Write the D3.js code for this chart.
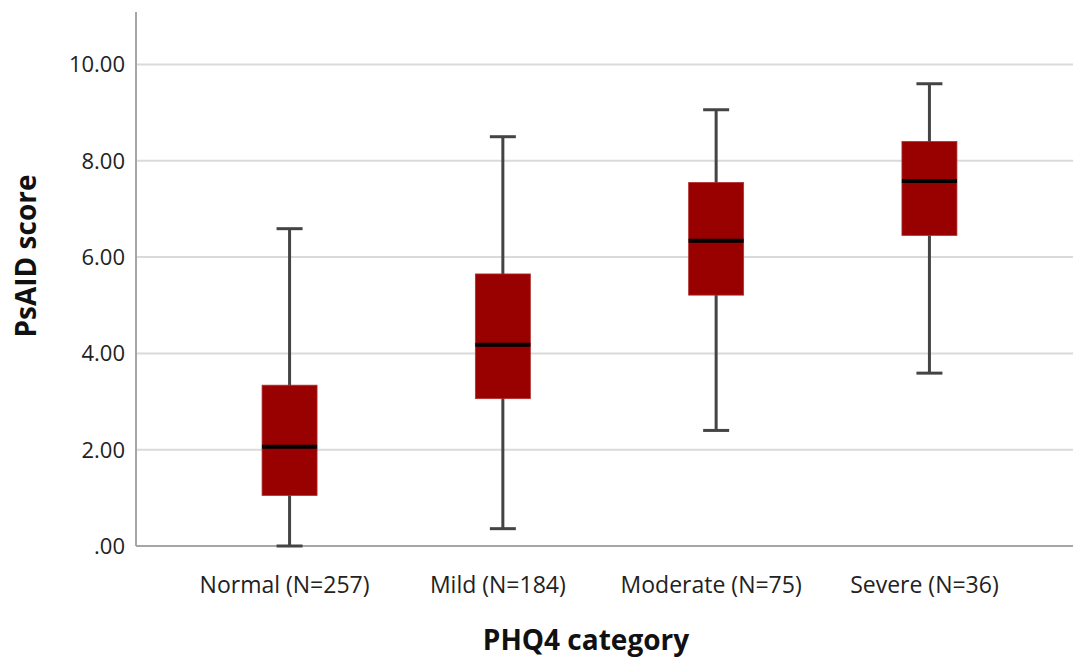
<!DOCTYPE html>
<html>
<head>
<meta charset="utf-8">
<script src="https://cdn.jsdelivr.net/npm/d3@7"></script>
<style>
  body { margin: 0; background: #fff; }
  text { font-family: "Open Sans", "Noto Sans", sans-serif; }
</style>
</head>
<body>
<svg id="chart" width="1073" height="658"></svg>
<script>
// values
const categories = ['Normal (N=257)', 'Mild (N=184)', 'Moderate (N=75)', 'Severe (N=36)']
const mins    = [0.00, 0.36, 2.40, 3.59]
const q1s     = [1.05, 3.06, 5.21, 6.45]
const medians = [2.06, 4.18, 6.34, 7.58]
const q3s     = [3.34, 5.65, 7.55, 8.40]
const maxs    = [6.59, 8.50, 9.06, 9.60]
const yTicks  = [0, 2, 4, 6, 8, 10]

const svg = d3.select('#chart')
const margin = {top: 12, right: 0, bottom: 112, left: 136}
const width = 1073 - margin.left - margin.right
const height = 658 - margin.top - margin.bottom

const g = svg.append('g').attr('transform', `translate(${margin.left},${margin.top})`)

const x = d3.scalePoint()
    .domain(categories)
    .range([0, 947])
    .padding(0.72)
const y = d3.scaleLinear()
    .domain([0, 11.09])
    .range([height, 0])

// gridlines
g.selectAll('line.grid')
    .data(yTicks.filter(d => d > 0))
    .join('line')
    .attr('class', 'grid')
    .attr('x1', 0).attr('x2', width)
    .attr('y1', d => y(d)).attr('y2', d => y(d))
    .attr('stroke', '#dadada')
    .attr('stroke-width', 2)

// axis lines
g.append('line')
    .attr('x1', 0).attr('x2', 0).attr('y1', 0).attr('y2', height)
    .attr('stroke', '#a6a6a6').attr('stroke-width', 2)
g.append('line')
    .attr('x1', 0).attr('x2', width).attr('y1', height).attr('y2', height)
    .attr('stroke', '#a6a6a6').attr('stroke-width', 2)

// y tick labels
g.selectAll('text.ytick')
    .data(yTicks)
    .join('text')
    .attr('class', 'ytick')
    .attr('x', -11)
    .attr('y', d => y(d))
    .attr('dy', '0.36em')
    .attr('text-anchor', 'end')
    .attr('font-size', 22)
    .attr('fill', '#222')
    .text(d => d === 0 ? '.00' : d.toFixed(2))

// x category labels
g.selectAll('text.xtick')
    .data(categories)
    .join('text')
    .attr('class', 'xtick')
    .attr('x', d => x(d) - 5)
    .attr('y', height + 47)
    .attr('text-anchor', 'middle')
    .attr('font-size', 23)
    .attr('fill', '#222')
    .text(d => d)

const boxW = 55, capW = 26
const boxes = g.selectAll('g.box')
    .data(categories)
    .join('g')
    .attr('class', 'box')
    .attr('transform', d => `translate(${x(d)},0)`)

// whiskers
boxes.append('line')
    .attr('x1', 0).attr('x2', 0)
    .attr('y1', (d, i) => y(mins[i])).attr('y2', (d, i) => y(maxs[i]))
    .attr('stroke', '#444').attr('stroke-width', 3)
boxes.append('line')
    .attr('x1', -capW / 2).attr('x2', capW / 2)
    .attr('y1', (d, i) => y(mins[i])).attr('y2', (d, i) => y(mins[i]))
    .attr('stroke', '#444').attr('stroke-width', 3)
boxes.append('line')
    .attr('x1', -capW / 2).attr('x2', capW / 2)
    .attr('y1', (d, i) => y(maxs[i])).attr('y2', (d, i) => y(maxs[i]))
    .attr('stroke', '#444').attr('stroke-width', 3)

// boxes
boxes.append('rect')
    .attr('x', -boxW / 2)
    .attr('width', boxW)
    .attr('y', (d, i) => y(q3s[i]))
    .attr('height', (d, i) => y(q1s[i]) - y(q3s[i]))
    .attr('fill', '#990000')
    .attr('stroke', '#b03030')
    .attr('stroke-width', 0.8)

// medians
boxes.append('line')
    .attr('x1', -boxW / 2).attr('x2', boxW / 2)
    .attr('y1', (d, i) => y(medians[i])).attr('y2', (d, i) => y(medians[i]))
    .attr('stroke', '#000').attr('stroke-width', 4)

// axis titles
svg.append('text')
    .attr('transform', 'translate(36,256) rotate(-90)')
    .attr('text-anchor', 'middle')
    .attr('font-size', 28)
    .attr('font-weight', 'bold')
    .attr('fill', '#111')
    .text('PsAID score')
svg.append('text')
    .attr('x', 586)
    .attr('y', 650)
    .attr('text-anchor', 'middle')
    .attr('font-size', 28)
    .attr('font-weight', 'bold')
    .attr('fill', '#111')
    .text('PHQ4 category')
</script>
</body>
</html>
